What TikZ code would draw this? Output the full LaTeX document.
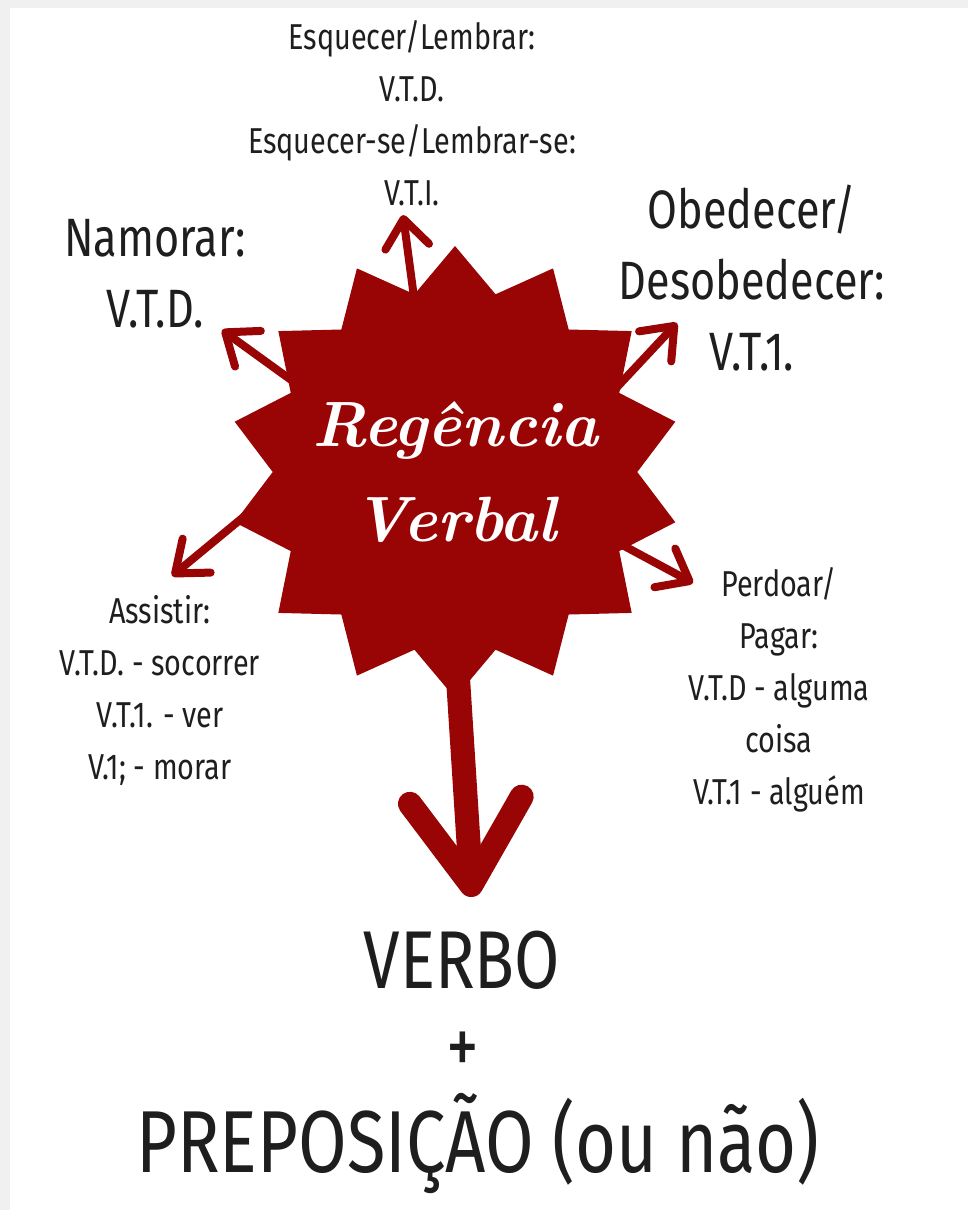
\documentclass[tikz,border=0pt]{standalone}
\usepackage{fontspec}
\newfontfamily\tagfont{Fira Sans}[FakeStretch=0.8]
\usetikzlibrary{shapes.geometric, arrows.meta, backgrounds}
\definecolor{regred}{RGB}{153,5,5}
\definecolor{paper}{RGB}{240,240,240}
\definecolor{ink}{RGB}{30,30,30}

\tikzset{
  tag/.style={align=center, text=ink, inner sep=0pt, font=\tagfont\fontsize{36}{52}\selectfont},
  bigtag/.style={tag, font=\tagfont\fontsize{54}{71}\selectfont},
  hand/.style={tag, font=\tagfont\fontsize{82}{90}\selectfont},
  burst/.style={star, star points=14, star point ratio=1.24, minimum size=452pt, inner sep=0pt, fill=regred},
  title/.style={align=center, text=white, inner sep=0pt, font=\fontsize{64}{95}\selectfont\bfseries\itshape},
  spoke/.style={draw=regred, line width=8pt, line cap=round, -{Straight Barb[length=28pt, width=44pt, round]}},
  bigspoke/.style={draw=regred, line width=24pt, line cap=round, -{Straight Barb[length=85pt, width=112pt, round]}},
}

\begin{document}
\begin{tikzpicture}[x=1pt, y=-1pt]
  \useasboundingbox (0,0) rectangle (968,1210);
  % central burst
  \node[burst] (burst) at (455,472) {};
  \node[title] (topic) at (burst.center) {Regência\\Verbal};
  % labels round it
  \node[tag] (forget) at (412,113) {Esquecer/Lembrar:\\V.T.D.\\Esquecer-se/Lembrar-se:\\V.T.I.};
  \node[bigtag] (date) at (155,274) {Namorar:\\V.T.D.};
  \node[bigtag] (obey) at (752,278) {Obedecer/\\Desobedecer:\\V.T.1.};
  \node[tag] (watch) at (160,690) {Assistir:\\V.T.D. - socorrer\\V.T.1. - ver\\V.1; - morar};
  \node[tag] (forgive) at (779,690) {Perdoar/\\Pagar:\\V.T.D - alguma\\coisa\\V.T.1 - alguém};
  \node[hand] (verb) at (462,960) {VERBO};
  \node[hand] (plus) at (463,1053) {+};
  \node[hand, font=\tagfont\fontsize{88}{90}\selectfont] (prep) at (478,1143) {PREPOSIÇÃO (ou não)};
  % arrow feet inside the burst, and tips
  \coordinate (footN) at (415,305);   \coordinate (tipN) at (403,215);
  \coordinate (footNW) at (305,390);  \coordinate (tipNW) at (222,330);
  \coordinate (footNE) at (605,400);  \coordinate (tipNE) at (677,323);
  \coordinate (footSW) at (258,505);  \coordinate (tipSW) at (172,576);
  \coordinate (footSE) at (600,533);  \coordinate (tipSE) at (693,583);
  \coordinate (footS) at (453,600);   \coordinate (tipS) at (472,897);
  \begin{scope}[on background layer]
    \fill[paper] (0,0) rectangle (968,1210);
    \fill[white] (10,8) rectangle (968,1210);
    \foreach \way in {N, NW, NE, SW, SE}
      \draw[spoke] (foot\way) -- (tip\way);
    \draw[bigspoke] (footS) -- (tipS);
  \end{scope}
\end{tikzpicture}
\end{document}
